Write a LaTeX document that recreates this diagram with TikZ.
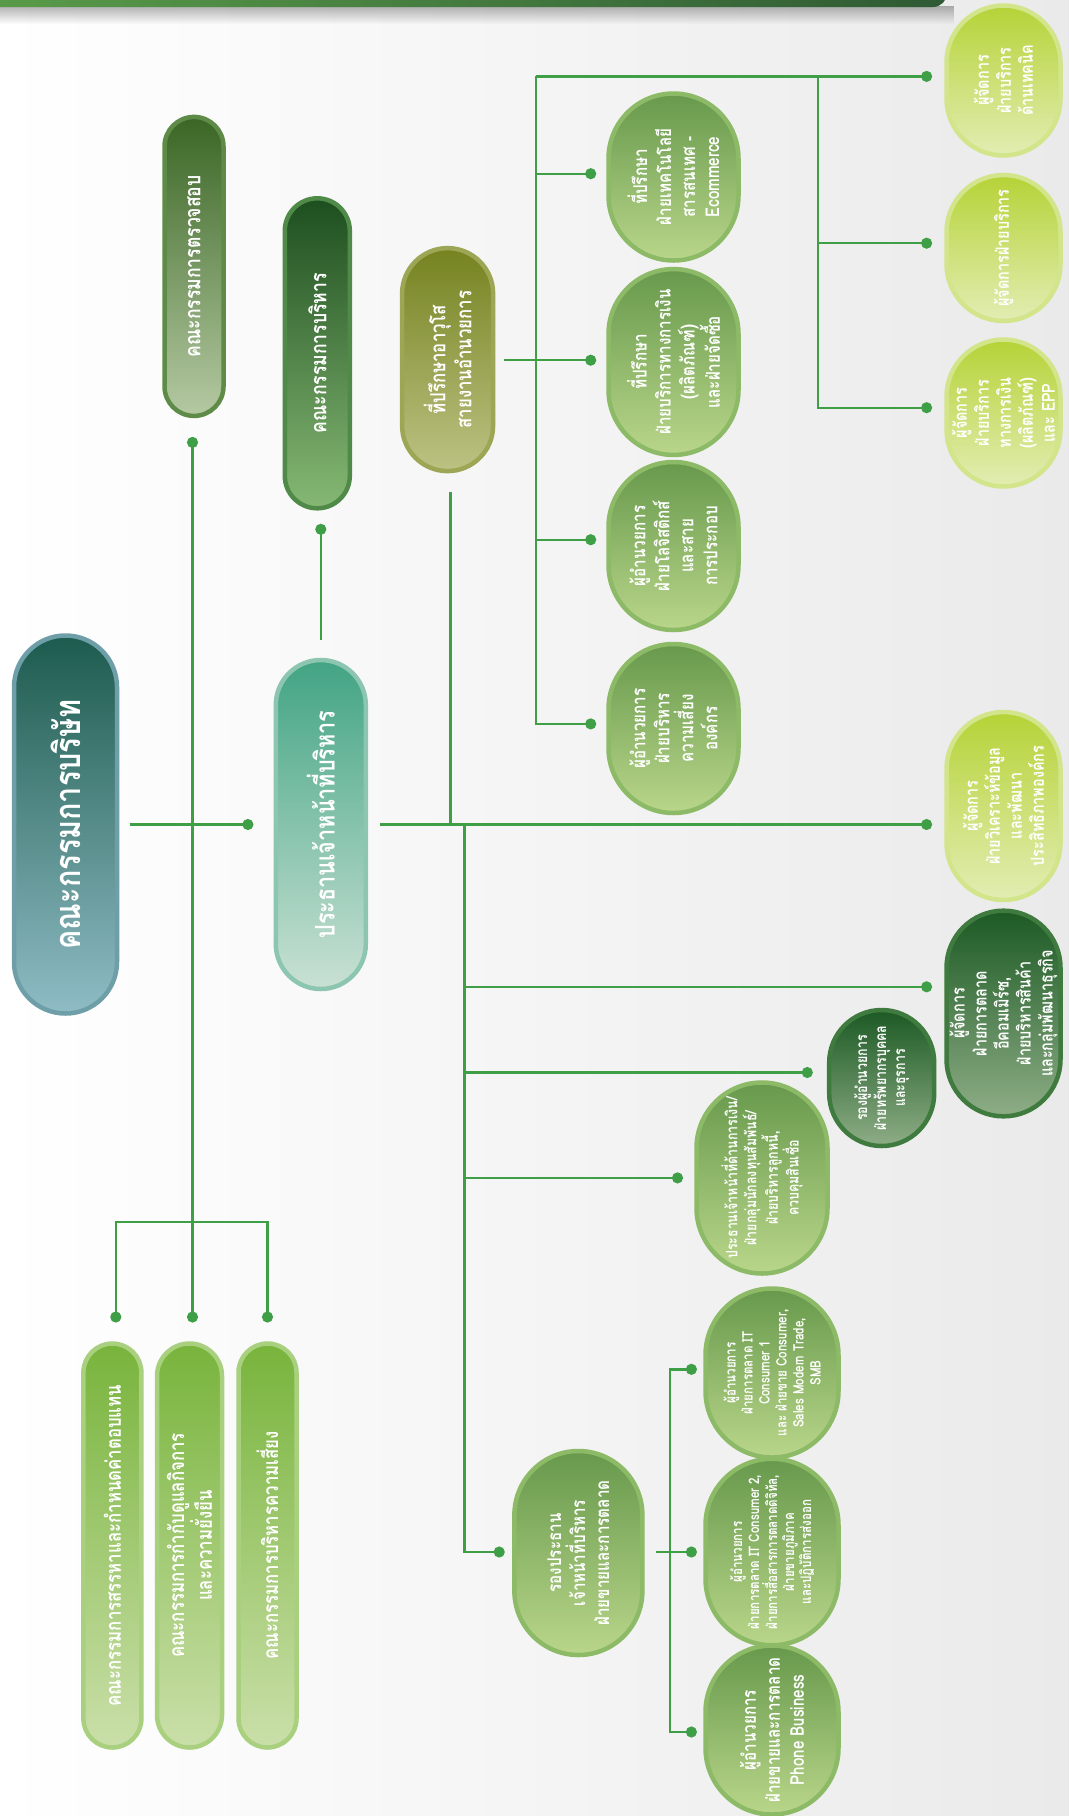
\documentclass[tikz,border=0pt]{standalone}
\usepackage{fontspec}
\newfontfamily\thaifont[Script=Thai,FakeStretch=0.8]{Loma}
\usetikzlibrary{shapes.misc,arrows.meta,fadings}

\definecolor{pagegray}{HTML}{EAEAEA}
\definecolor{linkgreen}{HTML}{3E9F47}
\definecolor{barleft}{HTML}{5A9C4A}
\definecolor{barright}{HTML}{2F5A34}
\definecolor{boardhi}{HTML}{1D5B4E}
\definecolor{boardlo}{HTML}{8FBCC5}
\definecolor{boardring}{HTML}{6E9FA9}
\definecolor{ceohi}{HTML}{42A484}
\definecolor{ceolo}{HTML}{C9E1D4}
\definecolor{ceoring}{HTML}{8CC6B0}
\definecolor{audithi}{HTML}{3A6625}
\definecolor{auditlo}{HTML}{B5C9A2}
\definecolor{auditring}{HTML}{5E8C48}
\definecolor{exechi}{HTML}{1D4E1F}
\definecolor{execlo}{HTML}{86B874}
\definecolor{execring}{HTML}{4F8A48}
\definecolor{olivehi}{HTML}{758320}
\definecolor{olivelo}{HTML}{BCC283}
\definecolor{olivering}{HTML}{9CA655}
\definecolor{midhi}{HTML}{67994C}
\definecolor{midlo}{HTML}{B9D68A}
\definecolor{midring}{HTML}{8DBA66}
\definecolor{limehi}{HTML}{B5D337}
\definecolor{limelo}{HTML}{E2EDB3}
\definecolor{limering}{HTML}{D2E58A}
\definecolor{darkhi}{HTML}{1C5A24}
\definecolor{darklo}{HTML}{8EAD86}
\definecolor{darkring}{HTML}{3F7A3E}
\definecolor{comhi}{HTML}{78B43C}
\definecolor{comlo}{HTML}{CADFA9}
\definecolor{comring}{HTML}{A9D07E}

\tikzset{
  orgbox/.style={rounded rectangle, rotate=90, line width=4.5pt, text=white, align=center, inner sep=1pt},
  boardbox/.style={orgbox, draw=boardring, top color=boardhi, bottom color=boardlo},
  ceobox/.style={orgbox, draw=ceoring, top color=ceohi, bottom color=ceolo},
  auditbox/.style={orgbox, draw=auditring, top color=audithi, bottom color=auditlo},
  execbox/.style={orgbox, draw=execring, top color=exechi, bottom color=execlo},
  olivebox/.style={orgbox, draw=olivering, top color=olivehi, bottom color=olivelo},
  midbox/.style={orgbox, draw=midring, top color=midhi, bottom color=midlo},
  limebox/.style={orgbox, draw=limering, top color=limehi, bottom color=limelo},
  darkbox/.style={orgbox, draw=darkring, top color=darkhi, bottom color=darklo},
  combox/.style={orgbox, draw=comring, top color=comhi, bottom color=comlo},
  hugetext/.style={font=\thaifont\bfseries\fontsize{36}{40}\selectfont},
  bigtext/.style={font=\thaifont\bfseries\fontsize{27}{30}\selectfont},
  comtext/.style={font=\thaifont\bfseries\fontsize{22}{26}\selectfont},
  advtext/.style={font=\thaifont\bfseries\fontsize{21}{26}\selectfont},
  midtext/.style={font=\thaifont\bfseries\fontsize{19}{24}\selectfont},
  limetext/.style={font=\thaifont\bfseries\fontsize{18}{22}\selectfont},
  smalltext/.style={font=\thaifont\bfseries\fontsize{15.5}{19}\selectfont},
  tinytext/.style={font=\thaifont\bfseries\fontsize{14.5}{17}\selectfont},
  link/.style={draw=linkgreen, line width=2.4pt},
  bullet/.tip={Circle[length=11pt]},
  dotlink/.style={link, -bullet, shorten >=-5.5pt},
}

\begin{document}
\begin{tikzpicture}[x=1pt,y=-1pt]
\useasboundingbox (0,0) rectangle (1069,1816);
\shade[left color=white, right color=pagegray] (0,0) rectangle (1069,1816);
% header band
\fill[black!60, opacity=.5, path fading=south] (0,6) rectangle (955,24);
\shade[left color=barleft, right color=barright, rounded corners=14pt] (-30,-30) rectangle (947,7);

% board side
\node[boardbox, hugetext, minimum width=380pt, minimum height=103pt] (board) at (65.5,824.5) {คณะกรรมการบริษัท};
\node[ceobox, bigtext, minimum width=331pt, minimum height=90pt] (ceo) at (320.8,824.5) {ประธานเจ้าหน้าที่บริหาร};
\node[auditbox, comtext, minimum width=301pt, minimum height=59pt] (audit) at (194,266.4) {คณะกรรมการตรวจสอบ};
\node[execbox, comtext, minimum width=312pt, minimum height=65pt] (exec) at (317.3,353.3) {คณะกรรมการบริหาร};
\node[combox, advtext, minimum width=406pt, minimum height=58pt] (nomcom) at (112.4,1545.5) {คณะกรรมการสรรหาและกำหนดค่าตอบแทน};
\node[combox, advtext, minimum width=406pt, minimum height=65pt] (cgcom) at (189.5,1545.5) {คณะกรรมการกำกับดูแลกิจการ\\และความยั่งยืน};
\node[combox, advtext, minimum width=406pt, minimum height=58pt] (riskcom) at (267.5,1545.5) {คณะกรรมการบริหารความเสี่ยง};

% advisory line
\node[olivebox, advtext, minimum width=225pt, minimum height=91pt] (senior) at (447.6,359.6) {ที่ปรึกษาอาวุโส\\สายงานอำนวยการ};
\node[midbox, midtext, minimum width=169pt, minimum height=130pt] (advit) at (673.5,177) {ที่ปรึกษา\\ฝ่ายเทคโนโลยี\\สารสนเทศ -\\Ecommerce};
\node[midbox, midtext, minimum width=170pt, minimum height=130pt] (advfin) at (673.5,362) {ที่ปรึกษา\\ฝ่ายบริการทางการเงิน\\(ผลิตภัณฑ์)\\และฝ่ายจัดซื้อ};
\node[midbox, midtext, minimum width=170pt, minimum height=130pt] (logis) at (673.5,546) {ผู้อำนวยการ\\ฝ่ายโลจิสติกส์\\และสาย\\การประกอบ};
\node[midbox, midtext, minimum width=171pt, minimum height=130pt] (riskdir) at (673.5,728.5) {ผู้อำนวยการ\\ฝ่ายบริหาร\\ความเสี่ยง\\องค์กร};
\node[limebox, limetext, minimum width=152pt, minimum height=114pt] (mgrtech) at (1003.5,80.5) {ผู้จัดการ\\ฝ่ายบริการ\\ด้านเทคนิค};
\node[limebox, limetext, minimum width=148pt, minimum height=114pt] (mgrsvc) at (1003.5,248) {ผู้จัดการฝ่ายบริการ};
\node[limebox, limetext, minimum width=149pt, minimum height=114pt] (mgrepp) at (1003.5,413) {ผู้จัดการ\\ฝ่ายบริการ\\ทางการเงิน\\(ผลิตภัณฑ์)\\และ EPP};

% line under the ceo
\node[limebox, limetext, minimum width=190pt, minimum height=114pt] (mgrdata) at (1003.5,806) {ผู้จัดการ\\ฝ่ายวิเคราะห์ข้อมูล\\และพัฒนา\\ประสิทธิภาพองค์กร};
\node[darkbox, limetext, minimum width=192pt, minimum height=114pt] (mgrmkt) at (1003.5,1013.5) {ผู้จัดการ\\ฝ่ายการตลาด\\อีคอมเมิร์ซ,\\ฝ่ายบริหารสินค้า\\และกลุ่มพัฒนาธุรกิจ};
\node[darkbox, smalltext, minimum width=138pt, minimum height=105pt] (hr) at (881.7,1078) {รองผู้อำนวยการ\\ฝ่ายทรัพยากรบุคคล\\และธุรการ};
\node[midbox, smalltext, minimum width=193pt, minimum height=131pt] (cfo) at (762,1178) {ประธานเจ้าหน้าที่ด้านการเงิน/\\ฝ่ายกลุ่มนักลงทุนสัมพันธ์/\\ฝ่ายบริหารลูกหนี้,\\ควบคุมสินเชื่อ};
\node[midbox, midtext, minimum width=206pt, minimum height=128pt] (vpsales) at (578.4,1553) {รองประธาน\\เจ้าหน้าที่บริหาร\\ฝ่ายขายและการตลาด};
\node[midbox, tinytext, minimum width=171pt, minimum height=133pt] (itcone) at (772,1373) {ผู้อำนวยการ\\ฝ่ายการตลาด IT\\Consumer 1\\และ ฝ่ายขาย Consumer,\\Sales Modern Trade,\\SMB};
\node[midbox, tinytext, minimum width=171pt, minimum height=133pt] (itctwo) at (772,1552) {ผู้อำนวยการ\\ฝ่ายการตลาด IT Consumer 2,\\ฝ่ายการสื่อสารการตลาดดิจิทัล,\\ฝ่ายขายภูมิภาค\\และปฏิบัติการส่งออก};
\node[midbox, midtext, minimum width=171pt, minimum height=133pt] (phone) at (772,1730) {ผู้อำนวยการ\\ฝ่ายขายและการตลาด\\Phone Business};

% junctions
\coordinate (boardout) at (129.7,824.5);
\coordinate (ceoin) at (247.9,824.5);
\coordinate (auditdot) at (192.5,442.4);
\coordinate (comfork) at (192.5,1222);
\coordinate (nomdot) at (115.8,1317);
\coordinate (cgdot) at (192.5,1317);
\coordinate (riskcomdot) at (267.5,1317);
\coordinate (execdot) at (320.8,529.3);
\coordinate (ceotop) at (320.8,640);
\coordinate (ceoout) at (379.9,824.5);
\coordinate (seniorfoot) at (450.5,492);
\coordinate (subbus) at (464.4,824.5);
\coordinate (datadot) at (926.6,824.5);
\coordinate (mktdot) at (926.6,986.8);
\coordinate (hrdot) at (807.3,1072.5);
\coordinate (cfodot) at (677.5,1177.9);
\coordinate (vpdot) at (499.2,1552);
\coordinate (seniorout) at (503.8,360.2);
\coordinate (advfindot) at (590.7,360.2);
\coordinate (advbus) at (536.2,76.4);
\coordinate (advitdot) at (590.7,173.7);
\coordinate (logisdot) at (590.7,539.7);
\coordinate (riskdirdot) at (590.7,723.9);
\coordinate (techdot) at (926.6,76.4);
\coordinate (mgrbus) at (817.7,76.4);
\coordinate (svcdot) at (926.6,243.2);
\coordinate (eppdot) at (926.6,407.7);
\coordinate (vpout) at (656,1552);
\coordinate (salesbus) at (669.7,1552);
\coordinate (itconedot) at (691.4,1369.3);
\coordinate (itctwodot) at (691.4,1552);
\coordinate (phonedot) at (691.4,1732);

% connectors
\draw[dotlink] (boardout) -- (ceoin);
\draw[dotlink, bullet-bullet, shorten <=-5.5pt] (auditdot) -- (cgdot);
\draw[dotlink] (comfork) -| (nomdot);
\draw[dotlink] (comfork) -| (riskcomdot);
\draw[dotlink] (ceotop) -- (execdot);
\draw[dotlink] (ceoout) -- (datadot);
\draw[link] (seniorfoot) -- (seniorfoot |- ceoout);
\draw[dotlink] (subbus) |- (vpdot);
\draw[dotlink] (subbus |- mktdot) -- (mktdot);
\draw[dotlink] (subbus |- hrdot) -- (hrdot);
\draw[dotlink] (subbus |- cfodot) -- (cfodot);
\draw[dotlink] (seniorout) -- (advfindot);
\draw[dotlink] (advbus) |- (riskdirdot);
\draw[dotlink] (advbus) -- (techdot);
\draw[dotlink] (advbus |- advitdot) -- (advitdot);
\draw[dotlink] (advbus |- logisdot) -- (logisdot);
\draw[dotlink] (mgrbus) |- (eppdot);
\draw[dotlink] (mgrbus |- svcdot) -- (svcdot);
\draw[link] (vpout) -- (salesbus);
\draw[dotlink] (salesbus) |- (itconedot);
\draw[dotlink] (salesbus) |- (phonedot);
\draw[dotlink] (salesbus) -- (itctwodot);
\end{tikzpicture}
\end{document}
